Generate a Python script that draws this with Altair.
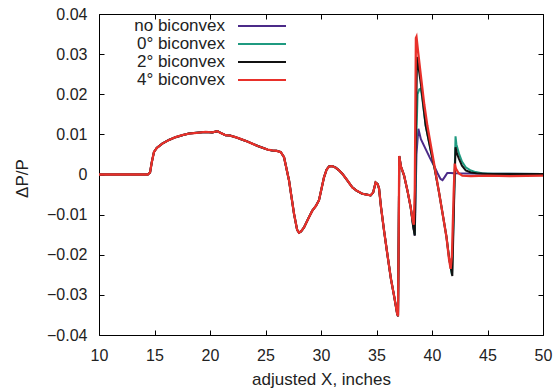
import altair as alt
import pandas as pd

SERIES = ["no biconvex", "0° biconvex", "2° biconvex", "4° biconvex"]
COLORS = ["#4b2a88", "#1f9a80", "#111111", "#e8302a"]

X_TICKS = [10, 15, 20, 25, 30, 35, 40, 45, 50]
Y_TICKS = [-0.04, -0.03, -0.02, -0.01, 0.0, 0.01, 0.02, 0.03, 0.04]

# part shared by all four runs (up to X = 38.1)
shared_x = [10, 14.4, 14.6, 14.75, 14.95, 15.2, 15.7, 16.3, 16.9, 17.5, 18.1, 18.8,
            19.6, 20.2, 20.66, 21.0, 21.4, 21.8, 22.3, 22.8, 23.3, 23.8, 24.3, 24.8,
            25.2, 25.6, 26.0, 26.37, 26.67, 27.12, 27.57, 27.85, 28.02, 28.2, 28.47,
            28.85, 29.22, 29.55, 29.82, 30.05, 30.27, 30.5, 30.72, 31.0, 31.32, 31.6,
            31.92, 32.3, 32.82, 33.2, 33.72, 34.1, 34.47, 34.7, 34.92, 35.1, 35.23,
            35.4, 35.68, 36.0, 36.3, 36.6, 36.85, 36.94, 37.0, 37.05, 37.2, 37.48,
            37.8, 38.08]
shared_y = [0.0, 0.0, 0.0005, 0.003, 0.0056, 0.0066, 0.0077, 0.0086, 0.0093, 0.0098,
            0.0102, 0.0104, 0.0106, 0.0105, 0.0108, 0.0103, 0.0098, 0.0097, 0.0093,
            0.0088, 0.0083, 0.0077, 0.0071, 0.0066, 0.0062, 0.006, 0.0059, 0.0056,
            0.0043, -0.0015, -0.0098, -0.0138, -0.0145, -0.0142, -0.0132, -0.011,
            -0.009, -0.0078, -0.0064, -0.0035, -0.0007, 0.0012, 0.002, 0.0021, 0.0017,
            0.0011, 0.0002, -0.0012, -0.0032, -0.004, -0.0048, -0.005, -0.0052,
            -0.0045, -0.002, -0.0024, -0.0035, -0.008, -0.014, -0.0203, -0.026,
            -0.0305, -0.0345, -0.0353, -0.015, 0.0046, 0.002, -0.0002, -0.0042, -0.0082]

# no biconvex
purple_x = [38.3, 38.45, 38.6, 38.77, 39.0, 39.42, 39.8, 40.18, 40.5, 40.77, 40.95,
            41.15, 41.38, 41.7, 42.0, 45.0, 50.0]
purple_y = [-0.0125, -0.0152, 0.005, 0.0114, 0.0088, 0.0064, 0.0042, 0.0022, 0.0003,
            -0.0011, -0.0014, -0.0006, 0.0004, 0.0004, 0.0003, 0.0002, 0.0001]

# 0 deg biconvex
green_x = [38.3, 38.45, 38.55, 38.7, 38.85, 38.98, 39.1, 39.43, 39.9, 40.2, 40.63,
           41.0, 41.3, 41.55, 41.8, 41.95, 42.12, 42.2, 42.43, 42.7, 43.04, 43.5,
           43.94, 44.5, 45.5, 50.0]
green_y = [-0.0128, -0.015, 0.005, 0.02, 0.0212, 0.0214, 0.0195, 0.0122, 0.0058,
           0.002, -0.0044, -0.0105, -0.0155, -0.021, -0.025, -0.01, 0.0095, 0.0075,
           0.0052, 0.0032, 0.0018, 0.001, 0.0006, 0.0003, 0.0002, 0.0001]

# 2 deg biconvex
black_x = [38.3, 38.45, 38.55, 38.65, 38.72, 39.0, 39.43, 39.9, 40.2, 40.63, 41.0,
           41.3, 41.55, 41.83, 41.98, 42.12, 42.25, 42.43, 42.7, 43.04, 43.5, 44.0,
           45.0, 50.0]
black_y = [-0.013, -0.0152, 0.01, 0.0293, 0.028, 0.0225, 0.0122, 0.0058, 0.002,
           -0.0044, -0.0105, -0.0155, -0.021, -0.0253, -0.008, 0.0068, 0.0052, 0.0039,
           0.0022, 0.001, 0.0005, 0.0003, 0.0001, 0.0001]

# 4 deg biconvex
red_x = [38.25, 38.36, 38.45, 38.55, 38.6, 38.75, 39.0, 39.3, 39.58, 39.9, 40.2,
         40.63, 41.0, 41.3, 41.53, 41.68, 41.8, 41.95, 42.05, 42.15, 42.4, 42.73,
         43.5, 45.0, 47.0, 50.0]
red_y = [-0.0112, -0.0125, -0.004, 0.034, 0.0343, 0.0305, 0.0245, 0.0175, 0.0122,
         0.0072, 0.0025, -0.0044, -0.0105, -0.0155, -0.021, -0.0235, -0.02, -0.005,
         0.0027, 0.0015, 0.0003, -0.0003, -0.0004, -0.0003, -0.0004, -0.0003]

tails = {
    SERIES[0]: (purple_x, purple_y),
    SERIES[1]: (green_x, green_y),
    SERIES[2]: (black_x, black_y),
    SERIES[3]: (red_x, red_y),
}

rows = []
for name in SERIES:
    tx, ty = tails[name]
    for i, (a, b) in enumerate(zip(shared_x + tx, shared_y + ty)):
        rows.append({"series": name, "x": a, "y": b, "i": i})
df = pd.DataFrame(rows)

W, H = 444, 321
FONT = "Liberation Sans"
TXT = "#222222"

xscale = alt.Scale(domain=[10, 50], nice=False, zero=False)
yscale = alt.Scale(domain=[-0.04, 0.04], nice=False, zero=False)

color = alt.Color(
    "series:N",
    scale=alt.Scale(domain=SERIES, range=COLORS),
    legend=alt.Legend(
        title=None, orient="none", legendX=154, legendY=3,
        symbolType="M-3,0H3", symbolSize=256, symbolStrokeWidth=2,
        symbolOffset=0, rowPadding=1, padding=0,
        labelAlign="right", labelOffset=alt.ExprRef(expr="-46"),
        labelFontSize=17, labelFont=FONT, labelColor=TXT, labelLimit=300,
    ),
)

x_main = alt.Axis(orient="bottom", values=X_TICKS, ticks=False, tickSize=0,
                  domain=False, grid=False, labelPadding=12, labelFontSize=16,
                  labelFlush=False, labelOverlap=False,
                  labelFont=FONT, labelColor=TXT, title="adjusted X, inches",
                  titleFont=FONT, titleFontSize=17, titleFontWeight="normal",
                  titleColor=TXT, titleY=49, titleBaseline="alphabetic")
y_main = alt.Axis(orient="left", values=Y_TICKS, ticks=False, tickSize=0,
                  domain=False, grid=False, labelPadding=12, labelFontSize=16,
                  labelFlush=False, labelOverlap=False,
                  labelFont=FONT, labelColor=TXT,
                  labelExpr="datum.value == 0 ? '0' : format(datum.value, '.2f')",
                  title="ΔP/P", titleFont=FONT, titleFontSize=17,
                  titleFontWeight="normal", titleColor=TXT,
                  titleX=-72, titleY=164, titleBaseline="alphabetic")


def tick_axis(orient, values, offset):
    return alt.Axis(orient=orient, values=values, offset=offset, labels=False,
                    domain=False, grid=False, ticks=True, tickSize=5,
                    tickColor="black", tickWidth=1, title=None)


layers = []
for k, name in enumerate(SERIES):
    first = k == 0
    layers.append(
        alt.Chart(df)
        .transform_filter(alt.datum.series == name)
        .mark_line(strokeWidth=2.3 if k == 3 else 2.0)
        .encode(
            x=alt.X("x:Q", scale=xscale, axis=x_main if first else None),
            y=alt.Y("y:Q", scale=yscale, axis=y_main if first else None),
            color=color,
            order="i:Q",
        )
    )

ticks_a = alt.Chart(df).mark_point(opacity=0).encode(
    x=alt.X("x:Q", scale=xscale, axis=tick_axis("top", X_TICKS, -H)),
    y=alt.Y("y:Q", scale=yscale, axis=tick_axis("right", Y_TICKS, -W)),
)
ticks_b = alt.Chart(df).mark_point(opacity=0).encode(
    x=alt.X("x:Q", scale=xscale, axis=tick_axis("bottom", X_TICKS, -H)),
    y=alt.Y("y:Q", scale=yscale, axis=tick_axis("left", Y_TICKS, -W)),
)

chart = (
    alt.layer(ticks_a, ticks_b, *layers)
    .resolve_axis(x="independent", y="independent")
    .properties(
        width=W, height=H,
        autosize=alt.AutoSizeParams(type="none"),
        padding={"left": 99, "top": 14, "right": 10, "bottom": 56},
        background="white",
    )
    .configure_view(stroke="black", strokeWidth=1)
)

chart.save("out.html", embed_options={"renderer": "svg", "actions": False})
